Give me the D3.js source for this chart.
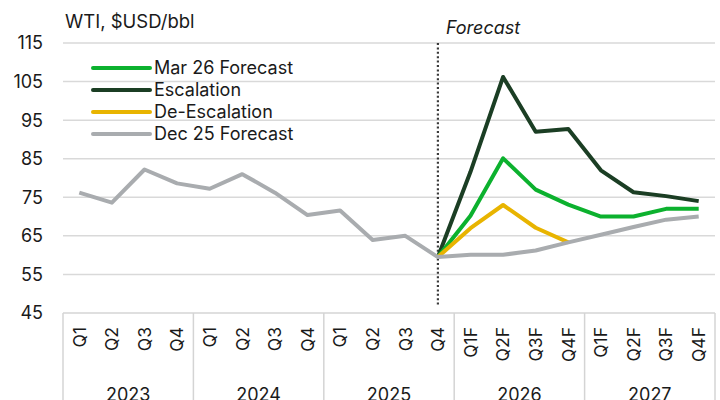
<!DOCTYPE html>
<html lang="en">
<head>
<meta charset="utf-8">
<title>WTI forecast</title>
<script src="https://d3js.org/d3.v7.min.js"></script>
<style>
  body { margin: 0; background: #fff; }
  text { font-family: Inter, "Liberation Sans", sans-serif; fill: #1a1a1a; }
</style>
</head>
<body>
<div id="chart"></div>
<script>

// categories
var quarters = ["Q1","Q2","Q3","Q4","Q1","Q2","Q3","Q4","Q1","Q2","Q3","Q4",
                "Q1F","Q2F","Q3F","Q4F","Q1F","Q2F","Q3F","Q4F"];
var years = ["2023","2024","2025","2026","2027"];
var yTicks = [45, 55, 65, 75, 85, 95, 105, 115];

// series values (null = not drawn)
var dec25 = [76.2, 73.6, 82.2, 78.6, 77.2, 81, 76.2, 70.4, 71.6, 63.9, 65, 59.5,
             60.1, 60.1, 61.2, 63.3, 65.3, 67.3, 69.2, 70];
var mar26 = [null, null, null, null, null, null, null, null, null, null, null, 59.5,
             70.2, 85.1, 77, 73.1, 70, 70, 72, 72];
var escalation = [null, null, null, null, null, null, null, null, null, null, null, 59.5,
                  81.6, 106.2, 92, 92.7, 82, 76.3, 75.3, 74];
var deEscalation = [null, null, null, null, null, null, null, null, null, null, null, 59.5,
                    67, 73, 67.1, 63.3, null, null, null, null];

var seriesNames = ["Mar 26 Forecast", "Escalation", "De-Escalation", "Dec 25 Forecast"];
var seriesColors = ["#0cb12e", "#1b3e24", "#e8b400", "#a9acaf"];
var seriesValues = [mar26, escalation, deEscalation, dec25];
var drawOrder = [1, 0, 2, 3];

var width = 720, height = 400;
var plotLeft = 63, plotRight = 715, plotTop = 43, plotBottom = 313;

var svg = d3.select("#chart").append("svg")
  .attr("width", width)
  .attr("height", height);

var x = d3.scaleBand()
  .domain(d3.range(quarters.length))
  .range([plotLeft, plotRight]);

var y = d3.scaleLinear()
  .domain([45, 115])
  .range([plotBottom, plotTop]);

// gridlines
svg.append("g")
  .selectAll("line")
  .data(yTicks.slice(1))
  .enter().append("line")
    .attr("x1", plotLeft).attr("x2", plotRight)
    .attr("y1", function(d) { return y(d); })
    .attr("y2", function(d) { return y(d); })
    .attr("stroke", "#d9d9d9")
    .attr("stroke-width", 1.5);

// y labels
svg.append("g")
  .selectAll("text")
  .data(yTicks)
  .enter().append("text")
    .attr("x", 43)
    .attr("y", function(d) { return y(d); })
    .attr("dy", "0.36em")
    .attr("text-anchor", "end")
    .attr("font-size", 18)
    .text(function(d) { return d; });

// category axis box
var bw = x.bandwidth();
svg.append("line")
  .attr("x1", plotLeft).attr("x2", plotRight)
  .attr("y1", plotBottom).attr("y2", plotBottom)
  .attr("stroke", "#d4d4d4").attr("stroke-width", 1.5);

svg.append("g")
  .selectAll("line")
  .data(d3.range(years.length + 1))
  .enter().append("line")
    .attr("x1", function(i) { return i < years.length ? x(i * 4) : plotRight; })
    .attr("x2", function(i) { return i < years.length ? x(i * 4) : plotRight; })
    .attr("y1", plotBottom).attr("y2", height)
    .attr("stroke", "#d4d4d4").attr("stroke-width", 1.5);

svg.append("g")
  .selectAll("text")
  .data(quarters)
  .enter().append("text")
    .attr("transform", function(d, i) {
      return "translate(" + (x(i) + bw / 2) + ",327) rotate(-90)";
    })
    .attr("dy", "0.36em")
    .attr("text-anchor", "end")
    .attr("font-size", 17.5)
    .text(function(d) { return d; });

svg.append("g")
  .selectAll("text")
  .data(years)
  .enter().append("text")
    .attr("x", function(d, i) { return x(i * 4) + bw * 2; })
    .attr("y", 401)
    .attr("text-anchor", "middle")
    .attr("font-size", 18)
    .text(function(d) { return d; });

// forecast divider
var divX = x(11) + bw / 2;
svg.append("line")
  .attr("x1", divX).attr("x2", divX)
  .attr("y1", plotTop).attr("y2", 306)
  .attr("stroke", "#3a3a3a")
  .attr("stroke-width", 2.2)
  .attr("stroke-dasharray", "2,2.4");

svg.append("text")
  .attr("x", divX + 8)
  .attr("y", 34)
  .attr("font-size", 18)
  .attr("font-style", "italic")
  .text("Forecast");

// title
svg.append("text")
  .attr("x", 65)
  .attr("y", 28)
  .attr("font-size", 18.5)
  .text("WTI, $USD/bbl");

// lines
var line = d3.line()
  .defined(function(d) { return d != null; })
  .x(function(d, i) { return x(i) + bw / 2; })
  .y(function(d) { return y(d); });

svg.append("g")
  .selectAll("path")
  .data(drawOrder)
  .enter().append("path")
    .attr("d", function(k) { return line(seriesValues[k]); })
    .attr("fill", "none")
    .attr("stroke", function(k) { return seriesColors[k]; })
    .attr("stroke-width", 4)
    .attr("stroke-linejoin", "round");

// legend
var legend = svg.append("g")
  .selectAll("g")
  .data(seriesNames)
  .enter().append("g")
    .attr("transform", function(d, i) { return "translate(93," + (68 + i * 22) + ")"; });

legend.append("line")
  .attr("x1", 0).attr("x2", 57)
  .attr("stroke", function(d, i) { return seriesColors[i]; })
  .attr("stroke-width", 4)
  .attr("stroke-linecap", "round");

legend.append("text")
  .attr("x", 61)
  .attr("dy", "0.36em")
  .attr("font-size", 18)
  .text(function(d) { return d; });

</script>
</body>
</html>
